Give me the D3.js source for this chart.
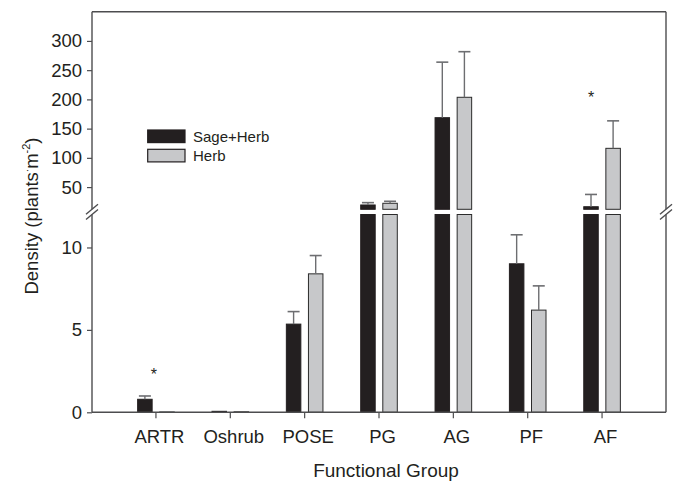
<!DOCTYPE html>
<html>
<head>
<meta charset="utf-8">
<script src="https://cdn.jsdelivr.net/npm/d3@7"></script>
<style>
  html, body { margin: 0; padding: 0; background: #fff; }
  svg text { font-family: "Liberation Sans", Arial, sans-serif; fill: #231f20; }
</style>
</head>
<body>
<svg id="chart" width="677" height="481"></svg>
<script>
// ---- data ----
const categories = ["ARTR", "Oshrub", "POSE", "PG", "AG", "PF", "AF"];
const seriesNames = ["Sage+Herb", "Herb"];
const sageHerb   = [0.79, 0.06, 5.35, 19.4, 168.7, 9.01, 16.4];
const sageHerbSE = [0.20, 0,    0.76, 4.0,  95,    1.76, 21];
const herb       = [0.02, 0.03, 8.40, 22.3, 203.6, 6.20, 116.3];
const herbSE     = [0,    0,    1.11, 3.4,  78,    1.47, 47];
const lowerTicks = [0, 5, 10];
const upperTicks = [50, 100, 150, 200, 250, 300];
const lowerDomain = [0, 12];
const upperDomain = [12, 350];
const sigGroups = ["ARTR", "AF"];
const sigLevels = [1.96, 194.5];

// ---- layout ----
const svg = d3.select("#chart");
const pLeft = 92, pRight = 666, pTop = 11.7, pBottom = 412.3;
const lowTop = 214.5, upBottom = 209.3;
const axisColor = "#4d4d4f";
const errColor = "#6d6e71";
const colors = {"Sage+Herb": "#231f20", "Herb": "#c7c8ca"};

const x0 = d3.scaleBand().domain(categories).range([pLeft, pRight]).paddingInner(0).paddingOuter(0.36);
const x1 = d3.scaleBand().domain(seriesNames).range([-18.3, 18.3]).paddingInner(0.344).paddingOuter(0);
const yLow = d3.scaleLinear().domain(lowerDomain).range([pBottom, lowTop]);
const yUp = d3.scaleLinear().domain(upperDomain).range([upBottom, pTop]);

const rows = [];
categories.forEach((c, i) => {
  rows.push({cat: c, s: "Sage+Herb", v: sageHerb[i], se: sageHerbSE[i]});
  rows.push({cat: c, s: "Herb", v: herb[i], se: herbSE[i]});
});
const cx = d => x0(d) + x0.bandwidth() / 2;

// ---- bars ----
const g = svg.append("g");
rows.forEach(d => {
  const bx = cx(d.cat) + x1(d.s);
  const bw = x1.bandwidth();
  const lowV = Math.min(d.v, lowerDomain[1]);
  const stroke = d.s === "Herb" ? "#2b2b2b" : "#231f20";
  g.append("rect")
    .attr("x", bx).attr("width", bw)
    .attr("y", yLow(lowV)).attr("height", yLow(0) - yLow(lowV))
    .attr("fill", colors[d.s]).attr("stroke", stroke).attr("stroke-width", 1);
  if (d.v > lowerDomain[1]) {
    g.append("rect")
      .attr("x", bx).attr("width", bw)
      .attr("y", yUp(d.v)).attr("height", yUp(upperDomain[0]) - yUp(d.v))
      .attr("fill", colors[d.s]).attr("stroke", stroke).attr("stroke-width", 1);
  }
  if (d.se > 0) {
    const ys = d.v > lowerDomain[1] ? yUp : yLow;
    const top2 = d.v + d.se;
    const mx = bx + bw / 2;
    g.append("line").attr("x1", mx).attr("x2", mx)
      .attr("y1", ys(d.v)).attr("y2", ys(top2))
      .attr("stroke", errColor).attr("stroke-width", 1.4);
    g.append("line").attr("x1", mx - 6).attr("x2", mx + 6)
      .attr("y1", ys(top2)).attr("y2", ys(top2))
      .attr("stroke", errColor).attr("stroke-width", 1.6);
  }
});

// ---- significance ----
sigGroups.forEach((c, i) => {
  const lv = sigLevels[i];
  const ys = lv > lowerDomain[1] ? yUp : yLow;
  const xx = c === "AF" ? cx(c) + x1("Sage+Herb") + x1.bandwidth() / 2 : cx(c) - 2;
  svg.append("text").attr("x", xx).attr("y", ys(lv))
    .attr("text-anchor", "middle").attr("font-size", 16).text("*");
});

// ---- axes ----
const axLow = d3.axisLeft(yLow).tickValues(lowerTicks).tickSize(5).tickPadding(5);
const axUp = d3.axisLeft(yUp).tickValues(upperTicks).tickSize(5).tickPadding(5);
function styleAxis(sel) {
  sel.select(".domain").remove();
  sel.selectAll(".tick line").attr("stroke", axisColor).attr("stroke-width", 1.2);
  sel.selectAll(".tick text").attr("font-size", 18.5).attr("fill", "#231f20")
    .attr("font-family", "Liberation Sans, Arial, sans-serif");
}
svg.append("g").attr("transform", `translate(${pLeft},0)`).call(axLow).call(styleAxis);
svg.append("g").attr("transform", `translate(${pLeft},0)`).call(axUp).call(styleAxis);

const axX = d3.axisBottom(x0).tickSize(6).tickPadding(11.5);
svg.append("g").attr("transform", `translate(0,${pBottom})`).call(axX)
  .call(sel => {
    sel.select(".domain").remove();
    sel.selectAll(".tick line").attr("stroke", axisColor).attr("stroke-width", 1.2);
    sel.selectAll(".tick text").attr("font-size", 18.5).attr("fill", "#231f20")
      .attr("dx", 3.5)
      .attr("font-family", "Liberation Sans, Arial, sans-serif");
  });

// frame lines (with breaks)
const brk1 = upBottom, brk2 = lowTop;
const frame = svg.append("g").attr("stroke", axisColor).attr("stroke-width", 1.4).attr("fill", "none");
frame.append("line").attr("x1", pLeft).attr("x2", pRight).attr("y1", pTop).attr("y2", pTop);
frame.append("line").attr("x1", pLeft).attr("x2", pRight).attr("y1", pBottom).attr("y2", pBottom);
[pLeft, pRight].forEach(xx => {
  frame.append("line").attr("x1", xx).attr("x2", xx).attr("y1", pTop).attr("y2", brk1);
  frame.append("line").attr("x1", xx).attr("x2", xx).attr("y1", brk2).attr("y2", pBottom);
  [brk1, brk2].forEach(yy => {
    frame.append("line").attr("x1", xx - 6).attr("x2", xx + 6)
      .attr("y1", yy + 5).attr("y2", yy - 5);
  });
});

// ---- titles ----
svg.append("text").attr("x", 386).attr("y", 476.5)
  .attr("text-anchor", "middle").attr("font-size", 19).text("Functional Group");

const yt = svg.append("text").attr("transform", "translate(38,216) rotate(-90)")
  .attr("text-anchor", "middle").attr("font-size", 18.5);
yt.append("tspan").text("Density (plants");
yt.append("tspan").attr("font-size", 10).attr("dy", -7).text("\u00B7");
yt.append("tspan").attr("dy", 7).text("m");
yt.append("tspan").attr("font-size", 11).attr("dy", -8).text("-2");
yt.append("tspan").attr("dy", 8).text(")");

// ---- legend ----
const leg = svg.append("g");
seriesNames.forEach((s, i) => {
  const ly = 130 + i * 19.3;
  leg.append("rect").attr("x", 147.7).attr("y", ly).attr("width", 37.3).attr("height", 12.6)
    .attr("fill", colors[s]).attr("stroke", "#231f20").attr("stroke-width", 1.2);
  leg.append("text").attr("x", 193).attr("y", ly + 12).attr("font-size", 15).text(s);
});
</script>
</body>
</html>
